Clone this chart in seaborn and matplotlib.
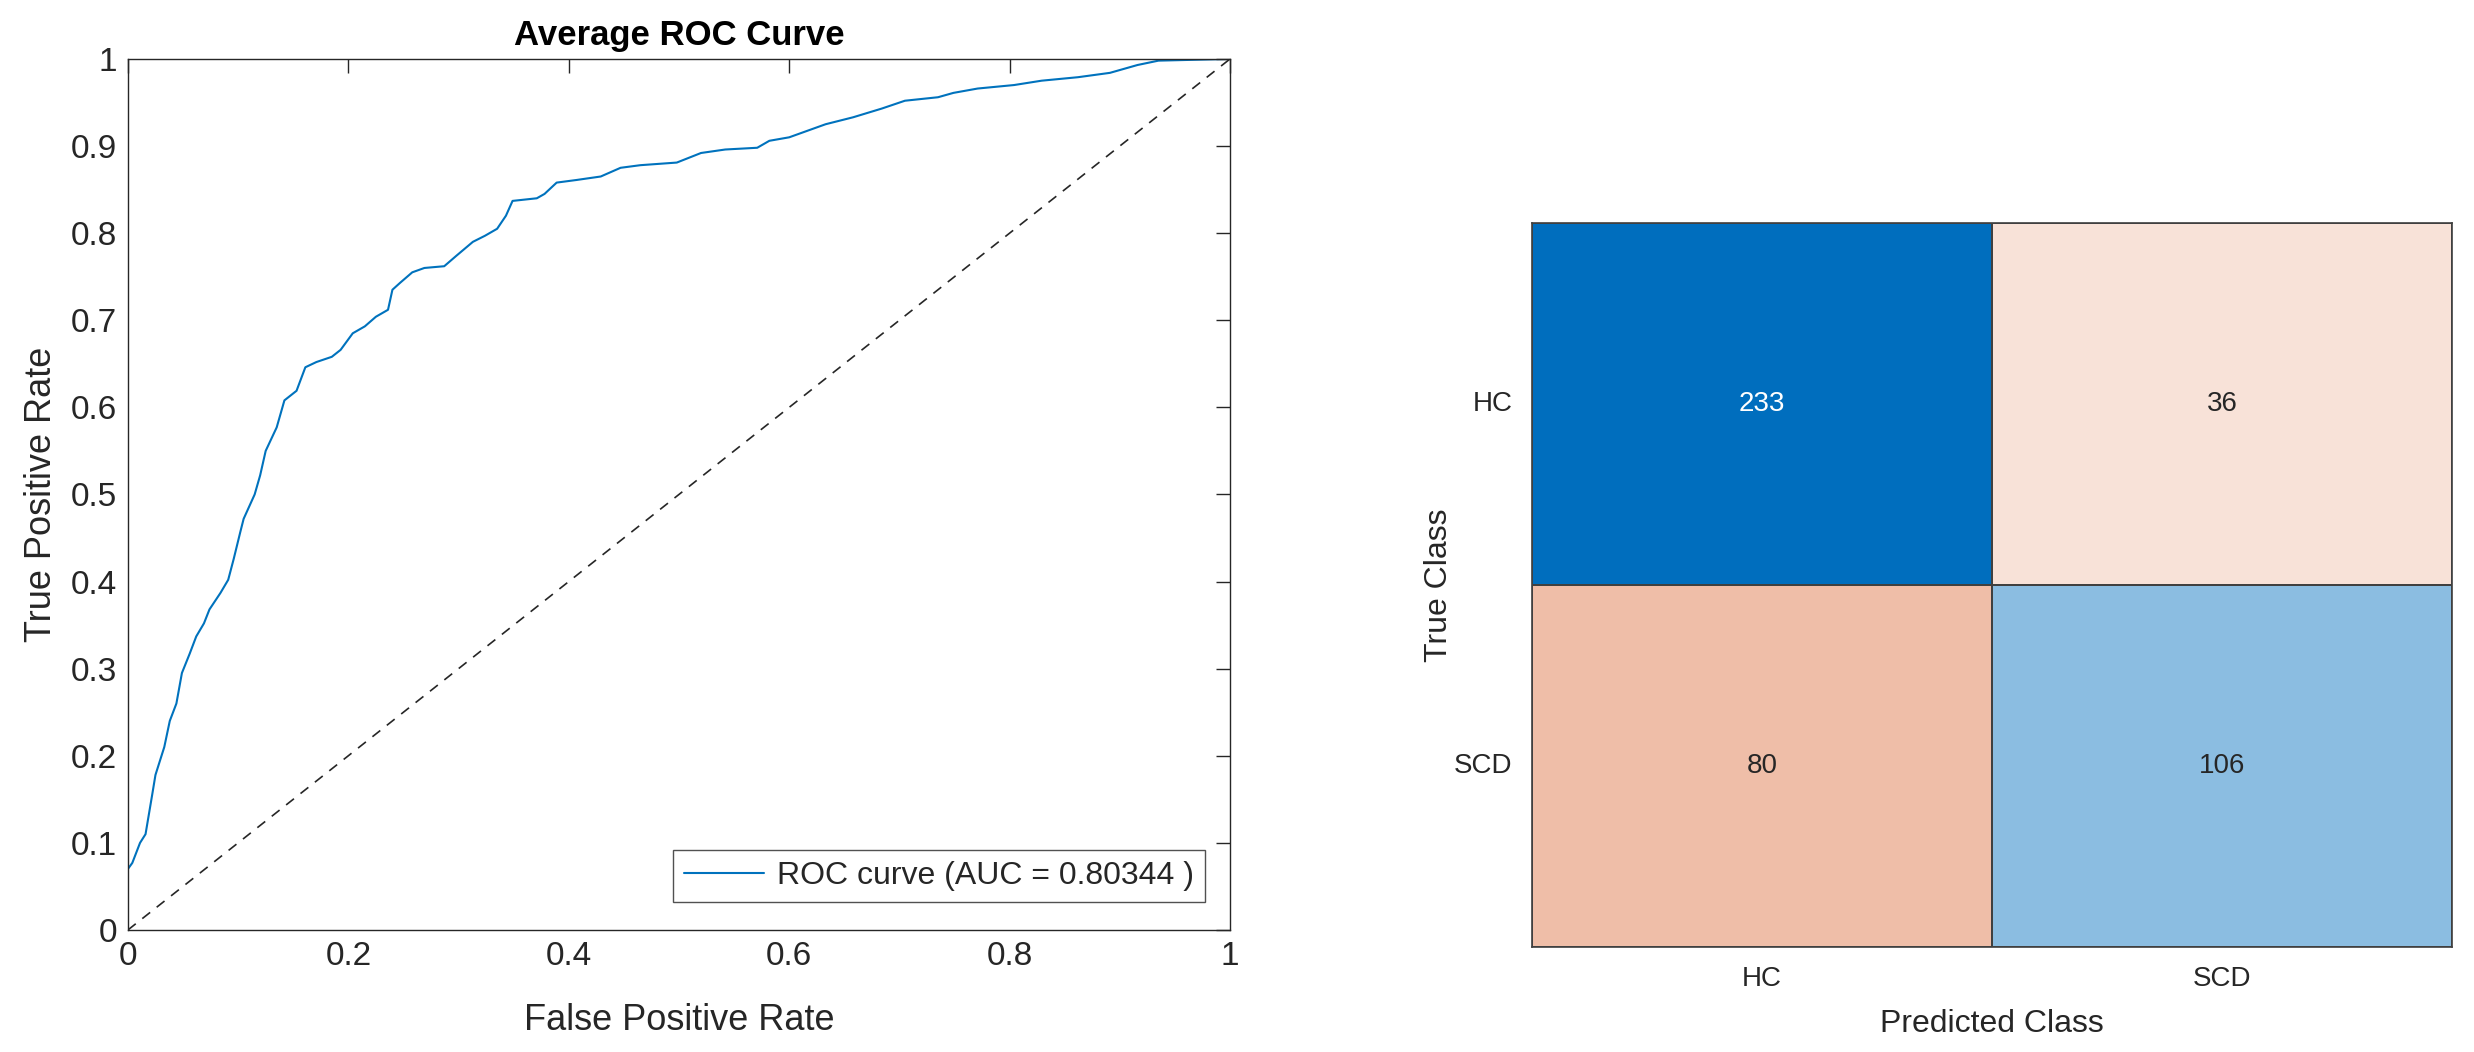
"""
ROC curve + confusion matrix figure (HC vs SCD classifier)
Output: out.png
"""

import numpy as np
import pandas as pd
import matplotlib
matplotlib.use("Agg")
import matplotlib.pyplot as plt
from matplotlib.colors import LinearSegmentedColormap
import seaborn as sns

# ============================================
# Data
# ============================================
FPR = [0.0, 0.0, 0.004, 0.011, 0.016, 0.022, 0.025, 0.033, 0.038, 0.044,
       0.049, 0.056, 0.062, 0.069, 0.074, 0.084, 0.091, 0.096, 0.102, 0.105,
       0.115, 0.120, 0.125, 0.135, 0.142, 0.153, 0.161, 0.171, 0.185, 0.193,
       0.204, 0.215, 0.225, 0.236, 0.240, 0.247, 0.258, 0.269, 0.287, 0.298,
       0.313, 0.324, 0.335, 0.343, 0.349, 0.371, 0.378, 0.389, 0.407, 0.429,
       0.447, 0.465, 0.498, 0.520, 0.542, 0.571, 0.582, 0.600, 0.633, 0.658,
       0.684, 0.705, 0.735, 0.749, 0.771, 0.804, 0.829, 0.862, 0.891, 0.916,
       0.935, 1.0]
TPR = [0.0, 0.070, 0.077, 0.100, 0.110, 0.155, 0.178, 0.210, 0.240, 0.260,
       0.295, 0.317, 0.337, 0.352, 0.368, 0.387, 0.402, 0.426, 0.457, 0.472,
       0.500, 0.522, 0.550, 0.577, 0.608, 0.619, 0.646, 0.652, 0.658, 0.666,
       0.685, 0.693, 0.704, 0.712, 0.735, 0.743, 0.755, 0.760, 0.762, 0.774,
       0.790, 0.797, 0.805, 0.820, 0.837, 0.840, 0.845, 0.858, 0.861, 0.865,
       0.875, 0.878, 0.881, 0.892, 0.896, 0.898, 0.906, 0.910, 0.925, 0.933,
       0.943, 0.952, 0.956, 0.961, 0.966, 0.970, 0.975, 0.979, 0.984, 0.993,
       0.998, 1.0]
AUC = 0.80344

CLASSES = ["HC", "SCD"]
CM_COUNTS = [[233, 36],
             [80, 106]]

# ============================================
# Style
# ============================================
sns.set_theme(style="white")
plt.rcParams["font.family"] = ["Liberation Sans", "DejaVu Sans"]
TEXT = "#262626"
MATLAB_BLUE = "#0072BD"
DIAG_BASE = "#006EBE"
OFFDIAG_BASE = "#D04000"

fig = plt.figure(figsize=(24.74, 10.52), dpi=100)

# ============================================
# ROC curve
# ============================================
ax1 = fig.add_axes([0.0517, 0.116, 0.4455, 0.828])
roc_df = pd.DataFrame({"fpr": FPR, "tpr": TPR})
sns.lineplot(data=roc_df, x="fpr", y="tpr", ax=ax1, color=MATLAB_BLUE,
             linewidth=1.5, sort=False, estimator=None,
             label=f"ROC curve (AUC = {AUC:.5f} )")
ax1.plot([0, 1], [0, 1], color="#262626", linestyle=(0, (6, 5)), linewidth=1.2)

ax1.set_xlim(0, 1)
ax1.set_ylim(0, 1)
ax1.set_xticks(np.arange(0, 1.01, 0.2))
ax1.set_yticks(np.arange(0, 1.01, 0.1))
ax1.set_xticklabels(["0", "0.2", "0.4", "0.6", "0.8", "1"])
ax1.set_yticklabels(["0"] + [f"{v:.1f}" for v in np.arange(0.1, 0.95, 0.1)] + ["1"])
ax1.tick_params(direction="in", length=10, width=1.0, top=True, right=True,
                labelsize=24, colors=TEXT, pad=8)
for s in ax1.spines.values():
    s.set_color(TEXT)
    s.set_linewidth(1.0)
ax1.set_xlabel("False Positive Rate", fontsize=26, color=TEXT, labelpad=22)
ax1.set_ylabel("True Positive Rate", fontsize=26, color=TEXT, labelpad=8)
ax1.set_title("Average ROC Curve", fontsize=25, fontweight="bold", color="black", pad=10)

leg = ax1.legend(loc="lower right", bbox_to_anchor=(0.977, 0.032), borderaxespad=0,
                 fontsize=23, frameon=True, fancybox=False, handlelength=2.5,
                 borderpad=0.35, handletextpad=0.4)
leg.get_frame().set_edgecolor(TEXT)
leg.get_frame().set_linewidth(1.0)
for t in leg.get_texts():
    t.set_color(TEXT)

# ============================================
# Confusion matrix
# ============================================
ax2 = fig.add_axes([0.6193, 0.1, 0.3718, 0.688])
cm = np.array(CM_COUNTS)
vmax = cm.max()
diag_mask = ~np.eye(len(CLASSES), dtype=bool)
blue_cmap = LinearSegmentedColormap.from_list("diag", ["white", DIAG_BASE])
orange_cmap = LinearSegmentedColormap.from_list("offdiag", ["white", OFFDIAG_BASE])

common = dict(annot=True, fmt="d", cbar=False, vmin=0, vmax=vmax, ax=ax2,
              linewidths=1.2, linecolor="#404040", square=False,
              xticklabels=CLASSES, yticklabels=CLASSES,
              annot_kws={"size": 20})
sns.heatmap(cm, mask=diag_mask, cmap=blue_cmap, **common)
sns.heatmap(cm, mask=~diag_mask, cmap=orange_cmap, **common)

for s in ax2.spines.values():
    s.set_visible(True)
    s.set_color("#404040")
    s.set_linewidth(1.2)
ax2.tick_params(length=0, labelsize=20, colors=TEXT, pad=14)
ax2.set_yticklabels(CLASSES, rotation=0)
ax2.set_xlabel("Predicted Class", fontsize=23, color=TEXT, labelpad=12)
ax2.set_ylabel("True Class", fontsize=23, color=TEXT, labelpad=0)

fig.savefig("out.png", dpi=100)
print("Saved out.png")
